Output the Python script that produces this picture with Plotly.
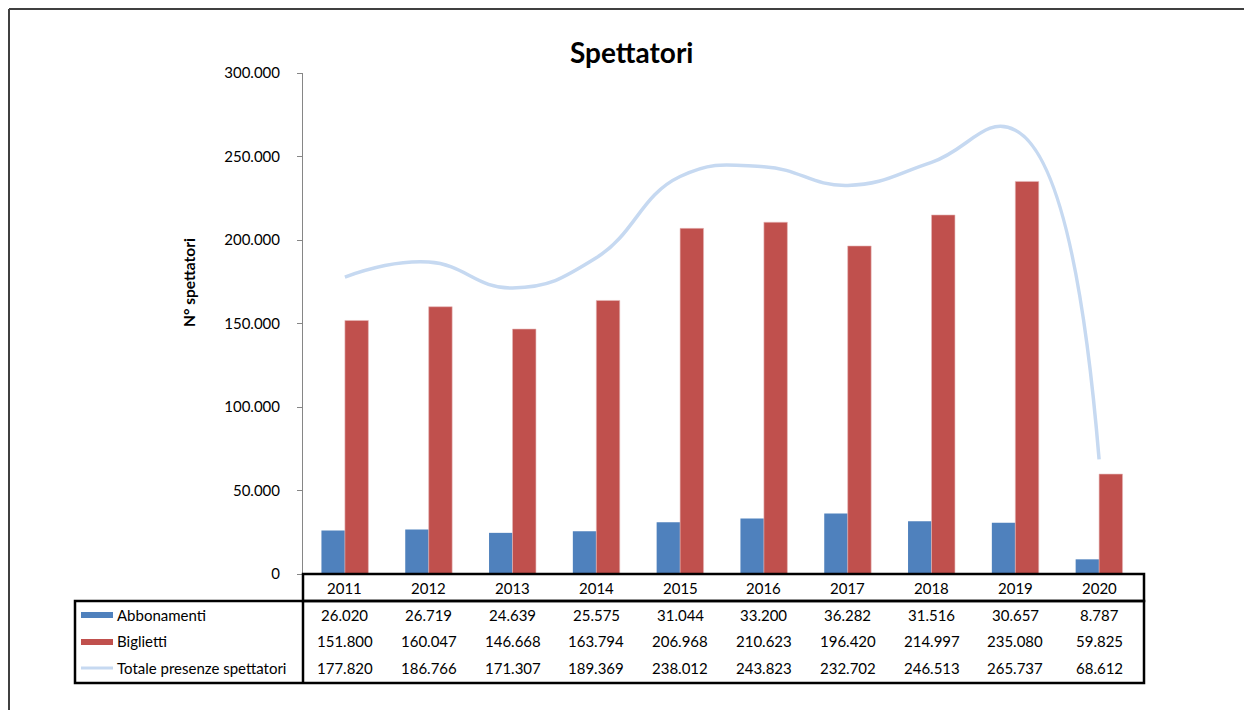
import plotly.graph_objects as go

years = ["2011", "2012", "2013", "2014", "2015", "2016", "2017", "2018", "2019", "2020"]
abbonamenti = [26020, 26719, 24639, 25575, 31044, 33200, 36282, 31516, 30657, 8787]
biglietti = [151800, 160047, 146668, 163794, 206968, 210623, 196420, 214997, 235080, 59825]
totale = [177820, 186766, 171307, 189369, 238012, 243823, 232702, 246513, 265737, 68612]
tick_vals = [0, 50000, 100000, 150000, 200000, 250000, 300000]
tick_text = ["0", "50.000", "100.000", "150.000", "200.000", "250.000", "300.000"]

BLUE = "#4F81BD"
RED = "#C0504D"
LIGHT = "#C6D9F1"
FONT = "Lato"

OFF = 8  # page body margin
W, H = 1252 - OFF, 710 - OFF
L, R, T, B = 303, 1141, 73, 574  # reference pixel coords of plot area


def px(x):
    return (x - L) / (R - L)


def py(y):
    return (B - y) / (B - T)


def fmt(v):
    return f"{v:,}".replace(",", ".")


fig = go.Figure()
fig.add_trace(go.Bar(x=years, y=abbonamenti, name="Abbonamenti", marker_color=BLUE,
                     marker_line_width=0))
fig.add_trace(go.Bar(x=years, y=biglietti, name="Biglietti", marker_color=RED,
                     marker_line_width=0.6, marker_line_color="#E6B9B8"))
fig.add_trace(go.Scatter(x=years, y=totale, name="Totale presenze spettatori", mode="lines",
                         line=dict(color=LIGHT, width=3.5, shape="spline", smoothing=1.3)))

shapes = []
lw = 2.5
# outer frame (top and left)
shapes.append(dict(type="line", xref="paper", yref="paper", x0=px(9), x1=px(1270), y0=py(9), y1=py(9),
                   line=dict(color="#404040", width=2)))
shapes.append(dict(type="line", xref="paper", yref="paper", x0=px(9), x1=px(9), y0=py(9), y1=py(730),
                   line=dict(color="#404040", width=2)))
# header box
shapes.append(dict(type="rect", xref="paper", yref="paper", x0=px(303), x1=px(1144), y0=py(574), y1=py(601),
                   line=dict(color="black", width=lw)))
# data box
shapes.append(dict(type="rect", xref="paper", yref="paper", x0=px(75), x1=px(1144), y0=py(601), y1=py(683),
                   line=dict(color="black", width=lw)))
shapes.append(dict(type="line", xref="paper", yref="paper", x0=px(303), x1=px(303), y0=py(601), y1=py(683),
                   line=dict(color="black", width=lw)))
# legend keys
shapes.append(dict(type="rect", xref="paper", yref="paper", x0=px(81), x1=px(113), y0=py(612), y1=py(618),
                   fillcolor=BLUE, line=dict(width=0)))
shapes.append(dict(type="rect", xref="paper", yref="paper", x0=px(81), x1=px(113), y0=py(639), y1=py(645),
                   fillcolor=RED, line=dict(width=0)))
shapes.append(dict(type="line", xref="paper", yref="paper", x0=px(81), x1=px(113), y0=py(668), y1=py(668),
                   line=dict(color=LIGHT, width=3)))

annotations = []
row_y = {"years": 588, "a": 615, "b": 641, "t": 668}
fsz = 15
for i, yr in enumerate(years):
    annotations.append(dict(x=i, xref="x", y=py(row_y["years"]), yref="paper", text=yr, showarrow=False,
                            font=dict(family=FONT, size=fsz, color="black"), yanchor="middle"))
    for key, arr in (("a", abbonamenti), ("b", biglietti), ("t", totale)):
        annotations.append(dict(x=i, xref="x", y=py(row_y[key]), yref="paper", text=fmt(arr[i]),
                                showarrow=False, font=dict(family=FONT, size=fsz, color="black"),
                                yanchor="middle"))
for key, label in (("a", "Abbonamenti"), ("b", "Biglietti"), ("t", "Totale presenze spettatori")):
    annotations.append(dict(x=px(115), xref="paper", y=py(row_y[key]), yref="paper", text=label,
                            showarrow=False, xanchor="left", yanchor="middle",
                            font=dict(family=FONT, size=fsz, color="black")))
# y axis title
annotations.append(dict(x=px(178), xref="paper", y=py(283), yref="paper", text="<b>N° spettatori</b>",
                        showarrow=False, textangle=-90, font=dict(family=FONT, size=15.5, color="black")))
# title
annotations.append(dict(x=px(631), xref="paper", y=py(52), yref="paper", text="<b>Spettatori</b>",
                        showarrow=False, font=dict(family=FONT, size=28, color="black"), yanchor="middle"))

fig.update_layout(
    width=W, height=H,
    margin=dict(l=L - OFF, r=1252 - R, t=T - OFF, b=710 - B, pad=0),
    paper_bgcolor="white", plot_bgcolor="white",
    barmode="group", bargap=0.44, bargroupgap=0,
    showlegend=False,
    shapes=shapes, annotations=annotations,
    font=dict(family=FONT),
)
fig.update_xaxes(type="category", showticklabels=False, showgrid=False, zeroline=False, showline=False,
                 ticks="", range=[-0.5, 9.5])
fig.update_yaxes(range=[0, 300000], tickvals=tick_vals, ticktext=tick_text, showgrid=False, zeroline=False,
                 showline=True, linecolor="#868686", linewidth=1, ticks="outside", ticklen=5,
                 tickcolor="#868686", tickfont=dict(family=FONT, size=15, color="black"), ticklabelstandoff=14)

fig.write_html("out.html")
